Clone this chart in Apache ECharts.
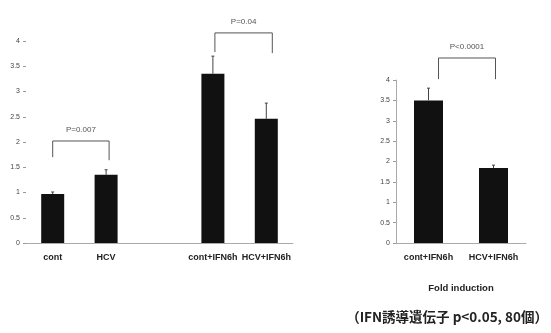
<!DOCTYPE html>
<html><head><meta charset="utf-8">
<script src="https://cdn.jsdelivr.net/npm/echarts@6/dist/echarts.min.js"></script>
<style>html,body{margin:0;padding:0;background:#fff}#c{width:551px;height:333px}</style>
</head><body><div id="c"></div>
<script>
// Left panel
const leftCategories = ['cont', 'HCV', '', 'cont+IFN6h', 'HCV+IFN6h'];
const leftValues = [0.97, 1.35, null, 3.35, 2.46];
const leftErrorTop = [1.01, 1.45, null, 3.7, 2.77];
// brackets: [fromIndex, toIndex, topValue, leftLegValue, rightLegValue]
const leftBrackets = [[0, 1, 2.02, 1.70, 1.64], [3, 4, 4.16, 3.78, 3.76]];
const leftPLabels = ['P=0.007', 'P=0.04'];
// Right panel
const rightCategories = ['cont+IFN6h', 'HCV+IFN6h'];
const rightValues = [3.5, 1.84];
const rightErrorTop = [3.8, 1.91];
const rightBrackets = [[0, 1, 4.54, 4.02, 4.02]];
const rightPLabels = ['P<0.0001'];
const yTicks = ['0', '0.5', '1', '1.5', '2', '2.5', '3', '3.5', '4'];

const chart = echarts.init(document.getElementById('c'), null, {renderer: 'canvas'});
const FONT = 'Liberation Sans, Arial, sans-serif';

function errorSeries(xi, vals, tops) {
  return {
    type: 'custom', xAxisIndex: xi, yAxisIndex: xi, silent: true, z: 5,
    data: vals.map((v, i) => [i, v, tops[i]]).filter(d => d[1] != null),
    renderItem: function (params, api) {
      const p0 = api.coord([api.value(0), api.value(1)]);
      const p1 = api.coord([api.value(0), api.value(2)]);
      return {type: 'group', children: [
        {type: 'line', shape: {x1: p0[0], y1: p0[1], x2: p1[0], y2: p1[1]}, style: {stroke: '#444', lineWidth: 1}},
        {type: 'line', shape: {x1: p1[0] - 1.5, y1: p1[1], x2: p1[0] + 1.5, y2: p1[1]}, style: {stroke: '#444', lineWidth: 1}}
      ]};
    }
  };
}
function bracketSeries(xi, brackets, labels, shifts) {
  return {
    type: 'custom', xAxisIndex: xi, yAxisIndex: xi, silent: true, clip: false, z: 5,
    dimensions: ['a', 'b', 'top', 'l', 'r'],
    encode: {x: 0, y: 2},
    data: brackets,
    renderItem: function (params, api) {
      const i = params.dataIndex;
      const b = brackets[i];
      const s = shifts[i];
      const pa = api.coord([b[0], b[2]]);
      const pb = api.coord([b[1], b[2]]);
      const xa = pa[0] + s[0], xb = pb[0] + s[1];
      const yl = api.coord([b[0], b[3]])[1];
      const yr = api.coord([b[1], b[4]])[1];
      return {type: 'group', children: [
        {type: 'polyline', shape: {points: [[xa, yl], [xa, pa[1]], [xb, pa[1]], [xb, yr]]}, style: {stroke: '#555', lineWidth: 1, fill: null}},
        {type: 'text', style: {text: labels[i], x: (xa + xb) / 2, y: pa[1] - 11, align: 'center', verticalAlign: 'middle', font: '8px ' + FONT, fill: '#555'}}
      ]};
    }
  };
}

const yAxisCommon = {
  type: 'value', min: 0, max: 4, interval: 0.5,
  splitLine: {show: false},
  axisLabel: {fontSize: 7, color: '#444', fontFamily: FONT, margin: 6, formatter: v => yTicks[Math.round(v * 2)]},
  axisTick: {show: true, length: 3, lineStyle: {color: '#999'}}
};
const xAxisCommon = {
  type: 'category',
  axisTick: {show: false},
  axisLine: {lineStyle: {color: '#aaa', width: 1}},
  axisLabel: {fontSize: 9, fontWeight: 'bold', color: '#222', fontFamily: FONT, margin: 10, interval: 0}
};

chart.setOption({
  animation: false,
  backgroundColor: '#fff',
  grid: [
    {left: 26, top: 41, width: 267, bottom: 90},
    {left: 396, top: 80, width: 130, bottom: 90}
  ],
  xAxis: [
    Object.assign({}, xAxisCommon, {gridIndex: 0, data: leftCategories}),
    Object.assign({}, xAxisCommon, {gridIndex: 1, data: rightCategories, name: 'Fold induction', nameLocation: 'middle', nameGap: 40,
      nameTextStyle: {fontSize: 9.5, fontWeight: 'bold', color: '#222', fontFamily: FONT}})
  ],
  yAxis: [
    Object.assign({}, yAxisCommon, {gridIndex: 0, axisLine: {show: false}}),
    Object.assign({}, yAxisCommon, {gridIndex: 1, axisLine: {show: true, lineStyle: {color: '#aaa'}}})
  ],
  series: [
    {type: 'bar', xAxisIndex: 0, yAxisIndex: 0, data: leftValues, barWidth: 23, itemStyle: {color: '#111'}},
    {type: 'bar', xAxisIndex: 1, yAxisIndex: 1, data: rightValues, barWidth: 29, itemStyle: {color: '#111'}},
    errorSeries(0, leftValues, leftErrorTop),
    errorSeries(1, rightValues, rightErrorTop),
    bracketSeries(0, leftBrackets, leftPLabels, [[0, 3], [2, 6]]),
    bracketSeries(1, rightBrackets, rightPLabels, [[10, 2]])
  ],
  graphic: [
    {type: 'text', right: 3, top: 310, style: {text: '（IFN誘導遺伝子 p<0.05, 80個）', font: 'bold 13.5px "Noto Sans CJK JP", sans-serif', fill: '#222'}}
  ]
});
</script></body></html>
